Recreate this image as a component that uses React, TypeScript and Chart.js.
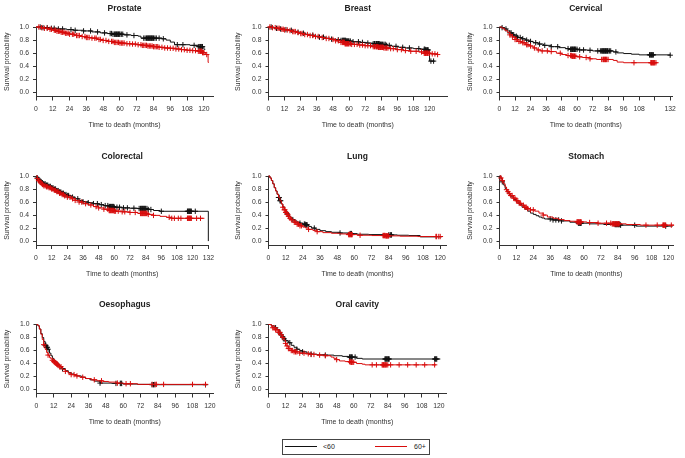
import React, { useEffect, useRef } from 'react';
import { Chart, registerables } from 'chart.js';
Chart.register(...registerables);

// ---------- tick labels ----------
const survTicks = [0, 0.2, 0.4, 0.6, 0.8, 1.0];
const monthTicks120 = [0, 12, 24, 36, 48, 60, 72, 84, 96, 108, 120];
const monthTicks132 = [0, 12, 24, 36, 48, 60, 72, 84, 96, 108, 120, 132];
const cervicalHiddenLabels = [120];
const groupLabels = ['<60', '60+'];

// ---------- Prostate ----------
const prostateLt60 = [[0,1],[5,0.99],[10,0.98],[16,0.97],[22,0.96],[27,0.95],[34,0.94],[40,0.925],[46,0.91],[51,0.9],[55,0.89],[63,0.88],[68,0.87],[73,0.86],[75,0.83],[90,0.82],[93,0.8],[96,0.77],[99,0.73],[110,0.72],[116,0.7],[120,0.66],[121,0.66]];
const prostate60p = [[0,1],[3,0.99],[6,0.98],[9,0.965],[12,0.95],[15,0.935],[18,0.92],[21,0.905],[24,0.89],[28,0.87],[32,0.855],[36,0.84],[40,0.83],[44,0.81],[48,0.795],[52,0.78],[56,0.765],[60,0.755],[64,0.745],[68,0.74],[72,0.73],[76,0.72],[80,0.71],[84,0.7],[88,0.69],[92,0.68],[96,0.675],[100,0.665],[104,0.655],[108,0.645],[112,0.64],[116,0.63],[119,0.61],[121,0.58],[123,0.46],[123.5,0.46]];
const prostateLt60Cens = [3,5,8,11,13,16,19,25,28,34,39,44,49,53,54,55,56,56.5,57,57.5,58,58.5,59,59.5,60,61,62,65,70,77,78,79,79.5,80,80.5,81,81.5,82,82.5,83,83.5,84,85,86,88,91,101,105,113,116,117,117.5,118,118.5,119];
const prostate60pCens = [2,4,6,8,10,11,13,14,15,16,17,18,19,20,21,22,23,24,26,27,29,30,31,33,35,36,37,38,40,42,43,45,46,48,50,52,54,55,56,57,58,59,60,61,62,63,65,67,69,71,73,75,76,77,78,79,80,81,82,83,84,85,86,87,88,90,92,94,96,98,100,102,104,106,108,110,112,114,116,117,117.5,118,118.5,119,119.5,120,122];

// ---------- Breast ----------
const breastLt60 = [[0,1],[3,0.99],[6,0.98],[9,0.97],[12,0.96],[15,0.95],[18,0.935],[21,0.92],[24,0.905],[27,0.89],[30,0.875],[34,0.86],[38,0.845],[42,0.83],[46,0.815],[50,0.805],[54,0.795],[58,0.785],[63,0.775],[68,0.765],[73,0.755],[78,0.745],[83,0.735],[88,0.72],[92,0.705],[97,0.69],[102,0.68],[108,0.67],[113,0.66],[117,0.65],[120,0.48],[124,0.48]];
const breast60p = [[0,1],[3,0.99],[6,0.98],[9,0.965],[12,0.955],[15,0.945],[18,0.93],[21,0.915],[24,0.9],[27,0.885],[30,0.87],[34,0.855],[38,0.84],[42,0.825],[46,0.81],[50,0.79],[54,0.765],[57,0.745],[62,0.735],[67,0.725],[72,0.715],[77,0.7],[82,0.69],[86,0.68],[90,0.67],[95,0.655],[100,0.64],[106,0.63],[112,0.62],[116,0.6],[121,0.59],[126,0.58]];
const breastLt60Cens = [2,6,9,13,17,22,26,33,38,41,47,52,54,55,55.5,56,56.5,57,57.5,58,58.5,59,59.5,60,61,63,67,70,74,78,79,80,80.5,81,81.5,82,82.5,83,83.5,84,84.5,85,86,87,88,90,95,100,105,112,116,116.5,117,117.5,118,118.5,119,121,123];
const breast60pCens = [1,3,5,7,8,10,11,12,14,16,18,19,20,22,24,25,27,29,31,33,35,37,40,43,45,48,50,52,54,55,55.5,56,56.5,57,57.5,58,58.5,59,59.5,60,61,62,64,66,68,70,72,74,76,78,79,80,80.5,81,81.5,82,82.5,83,83.5,84,84.5,85,85.5,86,87,88,89,91,93,96,99,102,106,110,114,116,116.5,117,117.5,118,118.5,119,120,122,124,126];

// ---------- Cervical ----------
const cervicalLt60 = [[0,1],[2,0.99],[4,0.97],[6,0.94],[8,0.91],[10,0.88],[12,0.86],[14,0.84],[17,0.82],[20,0.8],[23,0.78],[26,0.76],[30,0.74],[34,0.72],[40,0.7],[46,0.685],[51,0.67],[55,0.66],[62,0.65],[68,0.645],[72,0.635],[88,0.62],[91,0.605],[96,0.595],[102,0.585],[108,0.575],[132,0.57]];
const cervical60p = [[0,1],[2,0.98],[4,0.95],[6,0.92],[8,0.88],[10,0.85],[12,0.81],[14,0.78],[17,0.76],[20,0.73],[23,0.71],[26,0.68],[29,0.65],[32,0.635],[38,0.625],[44,0.6],[48,0.58],[52,0.565],[56,0.555],[60,0.545],[64,0.535],[70,0.515],[75,0.505],[88,0.49],[91,0.465],[96,0.455],[122,0.455]];
const cervicalLt60Cens = [2,5,8,9,10,11,13,14,16,18,21,24,28,31,35,40,45,53,55,55.5,56,56.5,57,57.5,58,58.5,59,60,62,65,70,76,78,79,79.5,80,80.5,81,81.5,82,82.5,83,83.5,84,85,86,90,116,116.5,117,117.5,118,118.5,119,132];
const cervical60pCens = [8,10,12,13,15,16,18,19,21,22,24,27,30,33,37,40,47,53,55,55.5,56,56.5,57,57.5,58,59,62,67,70,79,80,80.5,81,81.5,82,82.5,83,84,104,117,117.5,118,118.5,119,119.5,120,121];

// ---------- Colorectal ----------
const colorectalLt60 = [[0,1],[1,0.97],[2,0.95],[3,0.93],[4,0.91],[5,0.895],[6,0.88],[8,0.86],[10,0.84],[12,0.82],[14,0.8],[16,0.775],[18,0.755],[20,0.735],[22,0.715],[24,0.7],[27,0.675],[30,0.65],[33,0.625],[36,0.605],[40,0.59],[44,0.575],[48,0.56],[52,0.545],[56,0.53],[60,0.52],[66,0.51],[72,0.505],[78,0.5],[86,0.485],[90,0.47],[95,0.458],[132,0]];
const colorectal60p = [[0,1],[1,0.96],[2,0.93],[3,0.91],[4,0.89],[5,0.87],[6,0.85],[8,0.835],[10,0.82],[12,0.8],[14,0.78],[16,0.76],[18,0.735],[20,0.715],[22,0.695],[24,0.675],[27,0.65],[30,0.625],[33,0.6],[36,0.575],[40,0.555],[44,0.53],[48,0.51],[52,0.49],[56,0.47],[60,0.46],[66,0.45],[72,0.44],[78,0.425],[86,0.41],[90,0.395],[95,0.38],[100,0.365],[104,0.35],[129,0.35]];
const colorectalLt60Cens = [1,2,3,4,5,6,7,8,9,10,11,12,13,14,15,16,17,18,19,20,21,22,23,24,25,28,32,36,40,44,47,50,53,55,56,56.5,57,57.5,58,58.5,59,59.5,60,62,64,67,70,75,79,80,80.5,81,81.5,82,82.5,83,83.5,84,85,86,88,96,116,116.5,117,117.5,118,118.5,119,122];
const colorectal60pCens = [1,2,3,4,5,6,7,8,9,10,11,12,13,14,15,16,17,18,19,20,21,22,24,26,28,30,33,35,38,42,46,48,52,55,56,56.5,57,57.5,58,58.5,59,59.5,60,61,63,66,68,72,76,80,80.5,81,81.5,82,82.5,83,83.5,84,84.5,85,86,90,102,104,106,109,111,116,116.5,117,117.5,118,118.5,119,123,126];

// ---------- Lung ----------
const lungLt60 = [[0,1],[1,0.97],[2,0.93],[3,0.88],[4,0.82],[5,0.77],[6,0.72],[7,0.67],[8,0.62],[9,0.57],[10,0.53],[11,0.49],[12,0.45],[13,0.42],[14,0.39],[15,0.37],[16,0.35],[17,0.33],[18,0.31],[20,0.29],[22,0.275],[24,0.26],[26,0.25],[28,0.225],[30,0.2],[33,0.18],[36,0.16],[40,0.145],[44,0.135],[50,0.125],[56,0.115],[62,0.105],[70,0.1],[80,0.095],[90,0.09],[98,0.085],[106,0.065],[121,0.065]];
const lung60p = [[0,1],[1,0.97],[2,0.93],[3,0.88],[4,0.82],[5,0.77],[6,0.72],[7,0.67],[8,0.62],[9,0.57],[10,0.52],[11,0.48],[12,0.44],[13,0.41],[14,0.38],[15,0.35],[16,0.33],[17,0.31],[18,0.29],[20,0.26],[22,0.235],[24,0.215],[26,0.2],[28,0.18],[31,0.165],[34,0.145],[38,0.13],[44,0.12],[50,0.11],[56,0.1],[62,0.09],[72,0.085],[82,0.08],[92,0.075],[104,0.07],[122,0.07]];
const lungLt60Cens = [7,7.5,8,8.5,13,17,22,25,25.5,26,26.5,27,32,50,57,57.5,58,84,85,85.5,86];
const lung60pCens = [10,11,11.5,12,12.5,13,13.5,14,15,16,18,19,20,21,22,23,28,34,56,56.5,57,57.5,58,58.5,64,80,80.5,81,81.5,82,82.5,83,83.5,84,117,117.5,119,120];

// ---------- Stomach ----------
const stomachLt60 = [[0,1],[1,0.96],[2,0.91],[3,0.86],[4,0.81],[5,0.77],[6,0.74],[7,0.71],[8,0.68],[10,0.64],[12,0.6],[14,0.56],[16,0.52],[18,0.49],[20,0.46],[22,0.43],[24,0.41],[26,0.39],[28,0.37],[30,0.355],[32,0.34],[38,0.325],[44,0.31],[50,0.29],[56,0.275],[64,0.265],[74,0.255],[86,0.245],[97,0.23],[123,0.23]];
const stomach60p = [[0,1],[1,0.97],[2,0.93],[3,0.88],[4,0.83],[5,0.79],[6,0.76],[7,0.73],[8,0.7],[10,0.66],[12,0.62],[14,0.58],[16,0.55],[18,0.52],[20,0.5],[22,0.48],[25,0.46],[28,0.43],[31,0.4],[34,0.37],[38,0.35],[42,0.33],[46,0.315],[50,0.305],[55,0.295],[62,0.285],[70,0.275],[80,0.265],[90,0.255],[100,0.245],[124,0.245]];
const stomachLt60Cens = [2,36,38,40,42,44,56,56.5,57,57.5,58,82,82.5,83,83.5,84,84.5,85,85.5,86,96,118];
const stomach60pCens = [1,2,5,6,7,8,9,10,11,12,13,14,15,17,18,19,20,22,24,31,55,55.5,56,56.5,57,57.5,58,64,70,76,79,80,80.5,81,81.5,82,82.5,83,83.5,84,84.5,85,104,112,116,116.5,117,117.5,118,122];

// ---------- Oesophagus ----------
const oesophagusLt60 = [[0,1],[1,0.98],[2,0.93],[3,0.86],[4,0.8],[5,0.74],[6,0.68],[7,0.65],[8,0.62],[9,0.56],[10,0.52],[11,0.48],[12,0.45],[13,0.43],[14,0.41],[15,0.39],[16,0.36],[17,0.34],[18,0.32],[20,0.29],[22,0.26],[24,0.24],[26,0.225],[28,0.21],[31,0.19],[34,0.17],[37,0.15],[40,0.13],[44,0.1],[52,0.095],[60,0.085],[70,0.08],[80,0.075],[118,0.075]];
const oesophagus60p = [[0,1],[1,0.98],[2,0.93],[3,0.85],[4,0.77],[5,0.69],[6,0.62],[7,0.57],[8,0.53],[9,0.49],[10,0.47],[11,0.45],[12,0.43],[13,0.41],[14,0.39],[15,0.37],[16,0.35],[18,0.31],[20,0.28],[22,0.25],[24,0.23],[27,0.21],[30,0.19],[34,0.17],[38,0.15],[42,0.135],[46,0.125],[50,0.115],[56,0.1],[60,0.09],[70,0.08],[118,0.075]];
const oesophagusLt60Cens = [6,6.5,7,7.5,8,18,44,55,58,58.5,59,80,81,82,117];
const oesophagus60pCens = [5,8,11,12,12.5,13,13.5,14,14.5,15,16,17,20,24,26,28,32,40,45,56,62,65,80,82,83,88,108,117];

// ---------- Oral cavity ----------
const oralLt60 = [[0,1],[2,0.98],[4,0.95],[6,0.92],[8,0.87],[9,0.84],[10,0.81],[11,0.78],[12,0.75],[14,0.72],[16,0.68],[18,0.65],[20,0.62],[22,0.6],[24,0.58],[27,0.56],[30,0.545],[34,0.535],[40,0.53],[46,0.52],[52,0.51],[56,0.5],[62,0.48],[66,0.47],[121,0.47]];
const oral60p = [[0,1],[2,0.97],[3,0.95],[5,0.92],[7,0.88],[9,0.84],[10,0.8],[11,0.76],[12,0.71],[13,0.67],[14,0.63],[16,0.6],[18,0.58],[22,0.56],[26,0.55],[30,0.54],[34,0.53],[40,0.52],[44,0.5],[46,0.48],[48,0.46],[50,0.44],[54,0.43],[58,0.42],[62,0.4],[66,0.39],[68,0.38],[118,0.38]];
const oralLt60Cens = [5,8,9,10,11,12,15,20,24,30,40,57,57.5,58,58.5,59,61,82,82.5,83,83.5,84,84.5,85,117,117.5,118,118.5];
const oral60pCens = [3,4,5,6,7,8,9,10,12,13,14,15,16,17,18,19,20,22,25,28,30,32,36,40,48,57,57.5,58,58.5,59,60,73,76,80,80.5,81,81.5,82,82.5,83,84,86,92,98,104,110,117];

// ---------- panels ----------
const PANELS = [
  { title: 'Prostate', lt: prostateLt60, ge: prostate60p, ltC: prostateLt60Cens, geC: prostate60pCens, xMax: 126.5, xTicks: monthTicks120, hide: [] as number[] },
  { title: 'Breast', lt: breastLt60, ge: breast60p, ltC: breastLt60Cens, geC: breast60pCens, xMax: 133, xTicks: monthTicks120, hide: [] as number[] },
  { title: 'Cervical', lt: cervicalLt60, ge: cervical60p, ltC: cervicalLt60Cens, geC: cervical60pCens, xMax: 133.4, xTicks: monthTicks132, hide: cervicalHiddenLabels },
  { title: 'Colorectal', lt: colorectalLt60, ge: colorectal60p, ltC: colorectalLt60Cens, geC: colorectal60pCens, xMax: 132, xTicks: monthTicks132, hide: [] as number[] },
  { title: 'Lung', lt: lungLt60, ge: lung60p, ltC: lungLt60Cens, geC: lung60pCens, xMax: 124.4, xTicks: monthTicks120, hide: [] as number[] },
  { title: 'Stomach', lt: stomachLt60, ge: stomach60p, ltC: stomachLt60Cens, geC: stomach60pCens, xMax: 123.2, xTicks: monthTicks120, hide: [] as number[] },
  { title: 'Oesophagus', lt: oesophagusLt60, ge: oesophagus60p, ltC: oesophagusLt60Cens, geC: oesophagus60pCens, xMax: 122.2, xTicks: monthTicks120, hide: [] as number[] },
  { title: 'Oral cavity', lt: oralLt60, ge: oral60p, ltC: oralLt60Cens, geC: oral60pCens, xMax: 125, xTicks: monthTicks120, hide: [] as number[] },
];

// ---------- layout (pixels) ----------
const COLS = [
  { left: 0, yTitleX: 7 },
  { left: 230, yTitleX: 238 },
  { left: 459, yTitleX: 470 },
];
const ROWS = [
  { top: 0, height: 140, titleY: 8.5, yTop: 27, axY: 96.5, xTitleY: 125 },
  { top: 145, height: 143, titleY: 156.6, yTop: 176, axY: 245, xTitleY: 274 },
  { top: 292, height: 144, titleY: 305, yTop: 324.5, axY: 393.5, xTitleY: 421.7 },
];
const PLOT_X = [
  { axX: 36, axR: 213 },
  { axX: 268.5, axR: 447 },
  { axX: 499.5, axR: 672 },
  { axX: 36, axR: 208.5 },
  { axX: 268.5, axR: 446.5 },
  { axX: 499.5, axR: 673 },
  { axX: 36.5, axR: 213 },
  { axX: 268.5, axR: 446 },
];

const BLACK = '#111111';
const RED = '#d80c0c';
const TEXT = '#333333';
const FONT = '"Liberation Sans", Arial, Helvetica, sans-serif';

function survAt(curve: number[][], t: number): number {
  let s = curve[0][1];
  for (const [tt, ss] of curve) {
    if (tt <= t) s = ss;
    else break;
  }
  return s;
}

function Panel({ idx }: { idx: number }) {
  const ref = useRef<HTMLCanvasElement>(null);
  const cfg = PANELS[idx];
  const col = COLS[idx % 3];
  const row = ROWS[Math.floor(idx / 3)];
  const px = PLOT_X[idx];
  const cw = Math.ceil(px.axR - col.left + 10);
  const ch = row.height;

  useEffect(() => {
    const canvas = ref.current!;
    const titleSize = 8.5;
    const titleLH = titleSize * 1.2;
    const axSize = 7;
    const axLH = axSize * 1.2;
    const titlePadTop = row.titleY - row.top - titleLH / 2;
    const titlePadBottom = row.yTop - row.top - titleLH - titlePadTop;
    const yw = px.axX - col.left;
    const xh = row.top + row.height - row.axY;
    const yTitlePad = col.yTitleX - col.left - axLH / 2;
    const xTitlePadBottom = row.top + row.height - row.xTitleY - axLH / 2;
    const padRight = cw - (px.axR - col.left);

    const line = (data: number[][], color: string, order: number) => ({
      data: data.map(([x, y]) => ({ x, y })),
      borderColor: color,
      backgroundColor: color,
      borderWidth: 1,
      pointRadius: 0,
      stepped: 'before' as const,
      fill: false,
      order,
      clip: false as const,
    });
    const cens = (times: number[], curve: number[][], color: string, order: number) => ({
      data: times.map((t) => ({ x: t, y: survAt(curve, t) })),
      borderColor: color,
      backgroundColor: color,
      borderWidth: 1,
      showLine: false,
      pointStyle: 'cross' as const,
      pointRadius: 2.7,
      order,
      clip: false as const,
    });

    const chart = new Chart(canvas, {
      type: 'line',
      data: {
        datasets: [
          line(cfg.ge, RED, 0),
          cens(cfg.geC, cfg.ge, RED, 0),
          line(cfg.lt, BLACK, 1),
          cens(cfg.ltC, cfg.lt, BLACK, 1),
        ] as any,
      },
      options: {
        animation: false,
        responsive: false,
        maintainAspectRatio: false,
        events: [],
        layout: { padding: { left: 0, top: 0, bottom: 0, right: padRight } },
        plugins: {
          legend: { display: false },
          tooltip: { enabled: false },
          title: {
            display: true,
            text: cfg.title,
            fullSize: false,
            color: '#222',
            font: { family: FONT, size: titleSize, weight: 'bold', lineHeight: 1.2 },
            padding: { top: titlePadTop, bottom: titlePadBottom },
          },
        },
        scales: {
          x: {
            type: 'linear',
            min: 0,
            max: cfg.xMax,
            afterBuildTicks: (s: any) => {
              s.ticks = cfg.xTicks.map((v) => ({ value: v }));
            },
            afterFit: (s: any) => {
              s.height = xh;
            },
            ticks: {
              autoSkip: false,
              maxRotation: 0,
              minRotation: 0,
              padding: 5,
              color: TEXT,
              font: { family: FONT, size: 6.8, lineHeight: 1.2 },
              callback: (v: any) => (cfg.hide.includes(Number(v)) ? '' : String(v)),
            },
            grid: { drawOnChartArea: false, drawTicks: true, tickLength: 4, color: '#333', tickWidth: 1 },
            border: { display: true, color: '#333', width: 1 },
            title: {
              display: true,
              text: 'Time to death (months)',
              color: TEXT,
              font: { family: FONT, size: axSize, lineHeight: 1.2 },
              padding: { top: 0, bottom: xTitlePadBottom },
            },
          },
          y: {
            type: 'linear',
            min: -0.06,
            max: 1.0,
            afterBuildTicks: (s: any) => {
              s.ticks = survTicks.map((v) => ({ value: v }));
            },
            afterFit: (s: any) => {
              s.width = yw;
            },
            ticks: {
              padding: 4,
              color: TEXT,
              font: { family: FONT, size: 6.8, lineHeight: 1.2 },
              callback: (v: any) => Number(v).toFixed(1),
            },
            grid: { drawOnChartArea: false, drawTicks: true, tickLength: 3, color: '#333', tickWidth: 1 },
            border: { display: true, color: '#333', width: 1 },
            title: {
              display: true,
              text: 'Survival probability',
              color: TEXT,
              font: { family: FONT, size: axSize, lineHeight: 1.2 },
              padding: { top: yTitlePad, bottom: 0 },
            },
          },
        },
      } as any,
    });
    return () => chart.destroy();
  }, []);

  return (
    <canvas
      ref={ref}
      width={cw}
      height={ch}
      style={{ position: 'absolute', left: col.left, top: row.top, width: cw, height: ch, display: 'block' }}
    />
  );
}

function Legend() {
  const item = (color: string, label: string, lineLeft: number, textLeft: number) => (
    <>
      <div style={{ position: 'absolute', left: lineLeft, top: 6, width: 32, height: 0, borderTop: `1.5px solid ${color}` }} />
      <span style={{ position: 'absolute', left: textLeft, top: 1, fontSize: 7, lineHeight: '12px', color: '#222', fontFamily: FONT }}>{label}</span>
    </>
  );
  return (
    <div
      style={{
        position: 'absolute',
        left: 282,
        top: 439,
        width: 146,
        height: 14,
        border: '1px solid #444',
        background: '#fff',
      }}
    >
      {item(BLACK, groupLabels[0], 2, 40)}
      {item(RED, groupLabels[1], 92, 131)}
    </div>
  );
}

export default function App() {
  return (
    <div
      style={{
        position: 'absolute',
        left: 0,
        top: 0,
        width: 685,
        height: 458,
        overflow: 'hidden',
        background: '#fff',
      }}
    >
      {PANELS.map((_, i) => (
        <Panel key={i} idx={i} />
      ))}
      <Legend />
    </div>
  );
}
